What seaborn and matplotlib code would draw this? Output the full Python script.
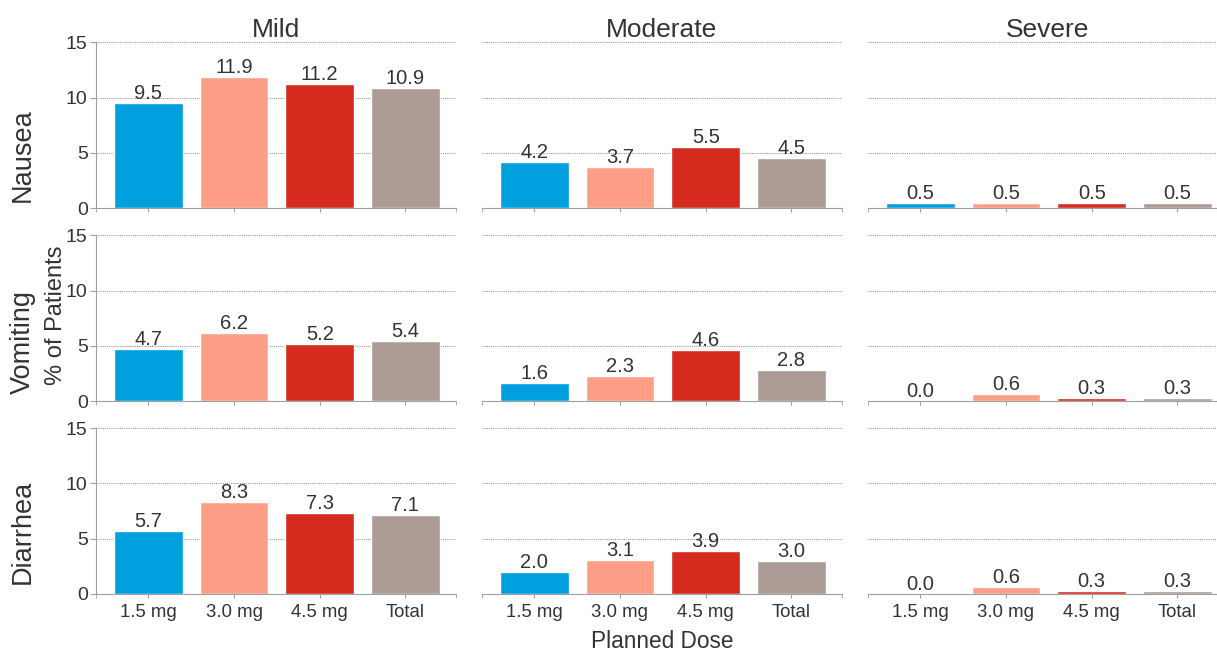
import seaborn as sns
import matplotlib.pyplot as plt
import pandas as pd

doses = ["1.5 mg", "3.0 mg", "4.5 mg", "Total"]
severities = ["Mild", "Moderate", "Severe"]
events = ["Nausea", "Vomiting", "Diarrhea"]
colors = ["#00a0de", "#fe9e87", "#d52b1e", "#ad9c95"]

nausea = {"Mild": [9.5, 11.9, 11.2, 10.9],
          "Moderate": [4.2, 3.7, 5.5, 4.5],
          "Severe": [0.5, 0.5, 0.5, 0.5]}
vomiting = {"Mild": [4.7, 6.2, 5.2, 5.4],
            "Moderate": [1.6, 2.3, 4.6, 2.8],
            "Severe": [0.0, 0.6, 0.3, 0.3]}
diarrhea = {"Mild": [5.7, 8.3, 7.3, 7.1],
            "Moderate": [2.0, 3.1, 3.9, 3.0],
            "Severe": [0.0, 0.6, 0.3, 0.3]}

rows = []
for ev, d in zip(events, [nausea, vomiting, diarrhea]):
    for sev in severities:
        for dose, v in zip(doses, d[sev]):
            rows.append({"event": ev, "severity": sev, "dose": dose, "pct": v})
df = pd.DataFrame(rows)

sns.set_style("white")
plt.rcParams["font.family"] = ["Liberation Sans", "DejaVu Sans"]
txt = "#333333"
spine = "#a0a0a0"

fig, axes = plt.subplots(3, 3, figsize=(12.17, 6.51), dpi=100)
# the right-hand panel runs a little past the image edge, as in the original
fig.subplots_adjust(left=96 / 1217, right=1228 / 1217, top=0.935, bottom=0.0876,
                    wspace=0.0722, hspace=0.163)

x0, x1 = -0.61, 3.59
for i, ev in enumerate(events):
    for j, sev in enumerate(severities):
        ax = axes[i, j]
        sub = df[(df.event == ev) & (df.severity == sev)]
        sns.barplot(data=sub, x="dose", y="pct", hue="dose", order=doses,
                    hue_order=doses, palette=colors, dodge=False, width=0.8,
                    legend=False, ax=ax, saturation=1)
        for c in ax.containers:
            ax.bar_label(c, fmt="%.1f", padding=0, fontsize=14.5, color=txt)
        ax.set_ylim(0, 15)
        ax.set_xlim(x0, x1)
        ax.set_xticks([x0, x1], minor=True)
        ax.set_yticks([0, 5, 10, 15])
        for y in [5, 10, 15]:
            ax.axhline(y, color="#888888", lw=0.7, ls=(0, (1, 1.2)), zorder=0)
        ax.set_xlabel("")
        ax.set_ylabel("")
        for s in ["top", "right"]:
            ax.spines[s].set_visible(False)
        ax.spines["bottom"].set_color(spine)
        ax.spines["left"].set_color(spine)
        ax.tick_params(axis="x", which="both", direction="out", length=3,
                       color=spine, labelsize=13.4, labelcolor=txt,
                       bottom=True, pad=4)
        ax.tick_params(axis="y", direction="out", length=4, color=spine,
                       labelsize=14, labelcolor=txt, left=True, pad=2)
        if j > 0:
            ax.spines["left"].set_visible(False)
            ax.tick_params(axis="y", left=False, labelleft=False)
        if i < 2:
            ax.tick_params(axis="x", labelbottom=False)
        if i == 0:
            ax.set_title(sev, fontsize=19, color=txt, pad=3)

row_y = [155, 342, 532]
for ev, y in zip(events, row_y):
    fig.text(23 / 1217, 1 - y / 651, ev, rotation=90, ha="center", va="center",
             fontsize=19.5, color=txt)
fig.text(56 / 1217, 1 - 315 / 651, "% of Patients", rotation=90, ha="center",
         va="center", fontsize=17, color=txt)
fig.text(662 / 1217, 1 - 641 / 651, "Planned Dose", ha="center", va="center",
         fontsize=16.3, color=txt)

fig.savefig("out.png", dpi=100)
